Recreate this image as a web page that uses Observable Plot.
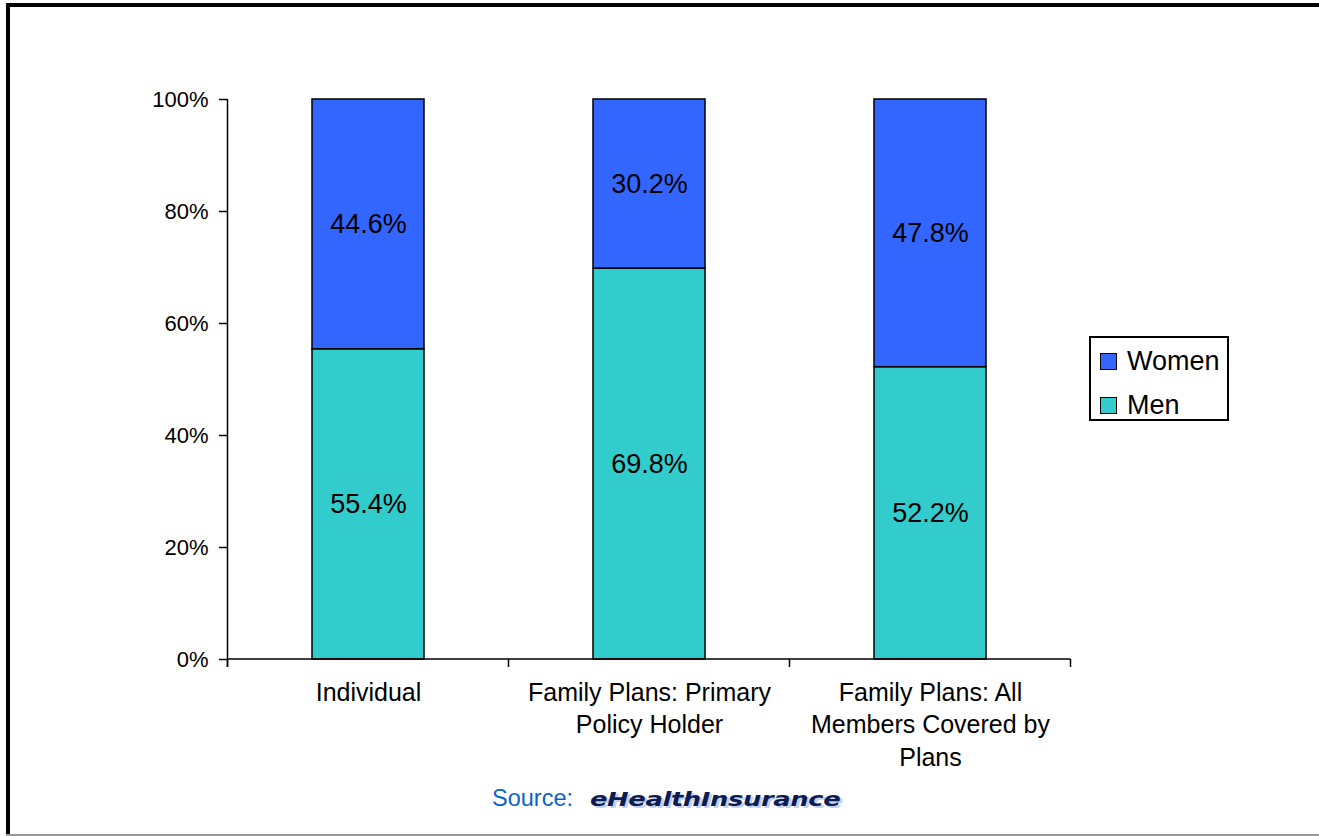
<!DOCTYPE html>
<html>
<head>
<meta charset="utf-8">
<script src="https://cdn.jsdelivr.net/npm/d3@7"></script>
<script src="https://cdn.jsdelivr.net/npm/@observablehq/plot@0.6"></script>
<style>
  html, body { margin: 0; padding: 0; background: #fff; }
  #wrap { position: relative; width: 1319px; height: 836px; overflow: hidden; font-family: "Liberation Sans", Arial, sans-serif; }
  #frameTop { position: absolute; left: 6px; top: 3px; width: 1313px; height: 4px; background: #000; }
  #frameLeft { position: absolute; left: 6px; top: 3px; width: 4px; height: 833px; background: #000; }
  #frameBottom { position: absolute; left: 6px; top: 834px; width: 1313px; height: 2px; background: #999; }
  #chart { position: absolute; left: 0; top: 0; }
  #legend { position: absolute; left: 1089px; top: 336px; width: 136px; height: 81px; border: 2px solid #000; background: #fff; }
  .li { position: absolute; left: 9px; height: 30px; display: flex; align-items: center; font-size: 27px; color: #000; }
  .sw { width: 15px; height: 15px; border: 1.5px solid #000; margin-right: 10px; }
  #source { position: absolute; left: 492px; top: 785px; white-space: nowrap; }
  #source .s { color: #0a64c8; font-size: 23.5px; font-family: "Liberation Sans", Arial, sans-serif; }
  #source .logo { display: inline-block; margin-left: 17px; color: #0c1c52; font-family: "DejaVu Sans", sans-serif; font-weight: bold; font-style: italic; font-size: 20px; letter-spacing: -0.3px; transform: scaleX(1.29); transform-origin: left center; text-shadow: 2px 2px 0 #c4d0ec; }
</style>
</head>
<body>
<div id="wrap">
  <div id="frameTop"></div>
  <div id="frameLeft"></div>
  <div id="frameBottom"></div>
  <div id="chart"></div>
  <div id="legend"></div>
  <div id="source"><span class="s">Source:</span><span class="logo">eHealthInsurance</span></div>
</div>
<script>
// ---- data ----
const categories = ["Individual", "Family Plans: Primary Policy Holder", "Family Plans: All Members Covered by Plans"];
const categoryLabels = ["Individual", "Family Plans: Primary\nPolicy Holder", "Family Plans: All\nMembers Covered by\nPlans"];
const seriesNames = ["Men", "Women"];
const menValues = [0.554, 0.698, 0.522];
const womenValues = [0.446, 0.302, 0.478];
const valueLabelsMen = ["55.4%", "69.8%", "52.2%"];
const valueLabelsWomen = ["44.6%", "30.2%", "47.8%"];
const yTicks = [0, 0.2, 0.4, 0.6, 0.8, 1.0];
const colorMen = "#33CCCC";
const colorWomen = "#3366FF";

const rows = [];
categories.forEach((c, i) => rows.push({category: c, series: "Men", value: menValues[i], label: valueLabelsMen[i]}));
categories.forEach((c, i) => rows.push({category: c, series: "Women", value: womenValues[i], label: valueLabelsWomen[i]}));

const labelMap = new Map(categories.map((c, i) => [c, categoryLabels[i]]));

// custom axis lines + boundary ticks
function axisFrame(index, scales, values, dimensions) {
  const x = scales.x, y = scales.y;
  const {marginLeft, marginRight, width} = dimensions;
  const step = x.step ? x.step() : (width - marginLeft - marginRight) / categories.length;
  const bw = x.bandwidth ? x.bandwidth() : 0;
  const g = d3.create("svg:g").attr("stroke", "#000").attr("stroke-width", 1.5).attr("fill", "none");
  const y0 = y(0), y1 = y(1);
  const left = x(categories[0]) - (step - bw) / 2;
  g.append("line").attr("x1", left).attr("x2", left).attr("y1", y1).attr("y2", y0 + 8);
  const right = left + step * categories.length;
  g.append("line").attr("x1", left).attr("x2", right).attr("y1", y0).attr("y2", y0);
  for (let i = 0; i <= categories.length; i++) {
    const xx = left + i * step;
    g.append("line").attr("x1", xx).attr("x2", xx).attr("y1", y0).attr("y2", y0 + 8);
  }
  return g.node();
}

const plot = Plot.plot({
  width: 1319,
  height: 776,
  marginLeft: 227,
  marginRight: 248,
  marginTop: 99,
  marginBottom: 117,
  style: {fontFamily: "'Liberation Sans', Arial, sans-serif", color: "#000", background: "transparent"},
  x: {domain: categories, paddingInner: 0.6, paddingOuter: 0.3, axis: null},
  y: {domain: [0, 1], axis: null},
  color: {domain: ["Women", "Men"], range: [colorWomen, colorMen]},
  marks: [
    Plot.barY(rows, Plot.stackY({x: "category", y: "value", z: "series", fill: "series", stroke: "#000", strokeWidth: 1.5, order: seriesNames})),
    Plot.text(rows, Plot.stackY({x: "category", y: "value", z: "series", text: "label", fill: "#000", fontSize: 27, order: seriesNames})),
    Plot.axisY({ticks: yTicks, tickFormat: d3.format(".0%"), tickSize: 8, tickPadding: 11, fontSize: 22, stroke: "#000", strokeWidth: 1.5, label: null}),
    Plot.axisX({tickSize: 0, tickPadding: 18, fontSize: 25, lineHeight: 1.3, tickFormat: d => labelMap.get(d), label: null}),
    axisFrame
  ]
});
document.getElementById("chart").appendChild(plot);

// legend
const legend = document.getElementById("legend");
const legendItems = [["Women", colorWomen], ["Men", colorMen]];
legendItems.forEach(([name, col], i) => {
  const d = document.createElement("div");
  d.className = "li";
  d.style.top = (8 + i * 44) + "px";
  d.innerHTML = `<span class="sw" style="background:${col}"></span><span>${name}</span>`;
  legend.appendChild(d);
});
</script>
</body>
</html>
